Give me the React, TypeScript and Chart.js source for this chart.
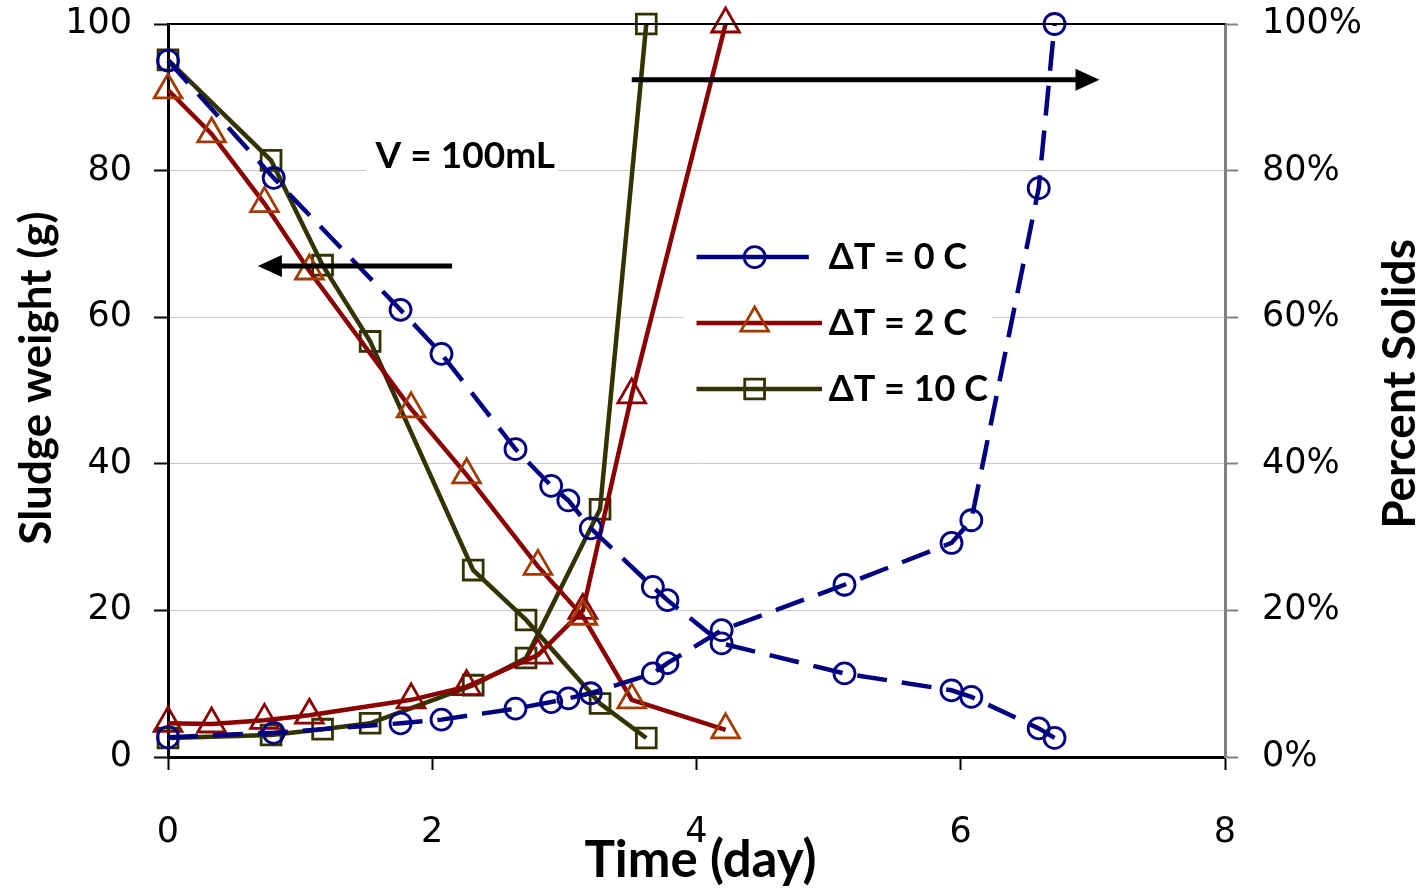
import React, { useEffect, useRef } from 'react';
import { Chart, registerables } from 'chart.js';
Chart.register(...registerables);

// ---- data ----
const xTicks = [0, 2, 4, 6, 8];
const yTicks = [0, 20, 40, 60, 80, 100];
const seriesLabels = ['ΔT = 0 C', 'ΔT = 2 C', 'ΔT = 10 C'];

const days0 = [0, 0.8, 1.76, 2.07, 2.63, 2.9, 3.03, 3.2, 3.67, 3.78, 4.19, 5.12, 5.93, 6.08, 6.59, 6.71];
const weight0 = [95, 79, 61, 55, 42, 37, 35, 31.2, 23.2, 21.4, 15.5, 11.4, 9.1, 8.2, 3.9, 2.6];
const solids0 = [2.7, 3.3, 4.6, 5.1, 6.6, 7.5, 8.0, 8.7, 11.4, 12.8, 17.3, 23.5, 29.2, 32.3, 77.6, 100];

const days2 = [0, 0.33, 0.73, 1.07, 1.84, 2.26, 2.8, 3.14, 3.51, 4.22];
const weight2 = [91, 85, 75.5, 66.3, 47.5, 38.5, 26, 19.2, 7.8, 3.7];
const solids2 = [4.6, 4.5, 5.0, 5.7, 7.8, 9.6, 13.9, 20, 49.4, 100];

const days10 = [0, 0.78, 1.17, 1.53, 2.31, 2.71, 3.27, 3.62];
const weight10 = [95.1, 81.4, 67.1, 56.7, 25.5, 18.7, 7.3, 2.6];
const solids10 = [2.6, 3.0, 3.8, 4.6, 9.8, 13.5, 33.8, 100];

const NAVY = '#000080';
const RED = '#8B0000';
const ORANGE = '#A33A00';
const OLIVE = '#333300';
const TITLE_FONT = 'Lato, "Open Sans", sans-serif';
const TICK_FONT = '"DejaVu Sans", Verdana, sans-serif';

const pts = (xs: number[], ys: number[]) => xs.map((x, i) => ({ x, y: ys[i] }));

function drawMarker(ctx: CanvasRenderingContext2D, style: string, x: number, y: number, r: number) {
  ctx.beginPath();
  if (style === 'circle') {
    ctx.arc(x, y, r, 0, Math.PI * 2);
  } else if (style === 'triangle') {
    const a = (2 * Math.PI) / 3;
    ctx.moveTo(x, y - r);
    ctx.lineTo(x + Math.sin(a) * r, y - Math.cos(a) * r);
    ctx.lineTo(x + Math.sin(2 * a) * r, y - Math.cos(2 * a) * r);
    ctx.closePath();
  } else {
    const s = Math.SQRT1_2 * r;
    ctx.rect(x - s, y - s, 2 * s, 2 * s);
  }
  ctx.stroke();
}

function arrow(ctx: CanvasRenderingContext2D, x1: number, y1: number, x2: number, y2: number) {
  const dir = Math.sign(x2 - x1);
  const head = 24;
  ctx.save();
  ctx.strokeStyle = '#000';
  ctx.fillStyle = '#000';
  ctx.lineWidth = 5;
  ctx.beginPath();
  ctx.moveTo(x1, y1);
  ctx.lineTo(x2 - dir * head + dir * 2, y2);
  ctx.stroke();
  ctx.beginPath();
  ctx.moveTo(x2, y2);
  ctx.lineTo(x2 - dir * head, y2 - 11);
  ctx.lineTo(x2 - dir * head, y2 + 11);
  ctx.closePath();
  ctx.fill();
  ctx.restore();
}

const decorPlugin = {
  id: 'decor',
  beforeDatasetsDraw(chart: any) {
    const { ctx, scales } = chart;
    const x = scales.x, y = scales.y;
    ctx.save();
    ctx.fillStyle = '#fff';
    // legend background
    ctx.fillRect(x.getPixelForValue(3.9), y.getPixelForValue(72), x.getPixelForValue(6.24) - x.getPixelForValue(3.9), y.getPixelForValue(46) - y.getPixelForValue(72));
    // annotation background
    ctx.fillRect(x.getPixelForValue(1.5), y.getPixelForValue(84.5), x.getPixelForValue(2.95) - x.getPixelForValue(1.5), y.getPixelForValue(78.5) - y.getPixelForValue(84.5));
    ctx.restore();
  },
  afterDatasetsDraw(chart: any) {
    const { ctx, scales, chartArea } = chart;
    const x = scales.x, y = scales.y;
    ctx.save();
    // top border
    ctx.strokeStyle = '#000';
    ctx.lineWidth = 2;
    ctx.beginPath();
    ctx.moveTo(chartArea.left, chartArea.top);
    ctx.lineTo(chartArea.right, chartArea.top);
    ctx.stroke();

    // arrows
    arrow(ctx, x.getPixelForValue(2.15), y.getPixelForValue(67), x.getPixelForValue(0.68), y.getPixelForValue(67));
    arrow(ctx, x.getPixelForValue(3.51), y.getPixelForValue(92.4), x.getPixelForValue(7.05), y.getPixelForValue(92.4));

    // annotation text
    ctx.fillStyle = '#000';
    ctx.font = `bold 37px ${TITLE_FONT}`;
    ctx.textAlign = 'center';
    ctx.textBaseline = 'middle';
    ctx.fillText('V = 100mL', x.getPixelForValue(2.25), y.getPixelForValue(82));

    // legend
    const legendItems = [
      { label: seriesLabels[0], color: NAVY, mk: NAVY, style: 'circle', r: 10.5, y: 68.2, end: 4.85 },
      { label: seriesLabels[1], color: RED, mk: ORANGE, style: 'triangle', r: 16, y: 59.2, end: 4.95 },
      { label: seriesLabels[2], color: OLIVE, mk: OLIVE, style: 'rect', r: 14, y: 50.2, end: 4.95 },
    ];
    legendItems.forEach((it) => {
      const py = y.getPixelForValue(it.y);
      const x0 = x.getPixelForValue(4.0);
      const x1 = x.getPixelForValue(it.end);
      ctx.strokeStyle = it.color;
      ctx.lineWidth = 4.5;
      ctx.beginPath();
      ctx.moveTo(x0, py);
      ctx.lineTo(x1, py);
      ctx.stroke();
      ctx.strokeStyle = it.mk;
      ctx.lineWidth = 2.8;
      drawMarker(ctx, it.style, x.getPixelForValue(4.44), py, it.r);
      ctx.fillStyle = '#000';
      ctx.font = `bold 36px ${TITLE_FONT}`;
      ctx.textAlign = 'left';
      ctx.textBaseline = 'middle';
      ctx.fillText(it.label, x.getPixelForValue(5.0), py);
    });
    ctx.restore();
  },
  afterDraw(chart: any) {
    const { ctx, chartArea } = chart;
    ctx.save();
    ctx.fillStyle = '#000';
    ctx.textAlign = 'center';
    ctx.textBaseline = 'middle';
    // left title
    ctx.save();
    ctx.translate(37, 378);
    ctx.rotate(-Math.PI / 2);
    ctx.font = `bold 44px ${TITLE_FONT}`;
    ctx.fillText('Sludge weight (g)', 0, 0);
    ctx.restore();
    // right title
    ctx.save();
    ctx.translate(1400, 384);
    ctx.rotate(-Math.PI / 2);
    ctx.font = `bold 46px ${TITLE_FONT}`;
    ctx.fillText('Percent Solids', 0, 0);
    ctx.restore();
    // x title
    ctx.font = `bold 51px ${TITLE_FONT}`;
    ctx.fillText('Time (day)', (chartArea.left + chartArea.right) / 2 + 4, 861);
    ctx.restore();
  },
};

export default function App() {
  const ref = useRef<HTMLCanvasElement>(null);
  useEffect(() => {
    document.body.style.margin = '0';
    const canvas = ref.current!;
    const common = { borderWidth: 4.5, tension: 0, clip: false as const, pointBackgroundColor: 'rgba(0,0,0,0)', pointBorderWidth: 2.8, pointHoverRadius: 10 };
    const fitY = (w: number) => (s: any) => { s.width = w; s.paddingTop = 0; s.paddingBottom = 0; };
    const chart = new Chart(canvas, {
      type: 'line',
      data: {
        datasets: [
          { ...common, label: seriesLabels[0], data: pts(days0, weight0), yAxisID: 'y', borderColor: NAVY, borderDash: [30, 15], pointStyle: 'circle', pointRadius: 10.5, pointBorderColor: NAVY },
          { ...common, label: seriesLabels[0] + ' %', data: pts(days0, solids0), yAxisID: 'y1', borderColor: NAVY, borderDash: [30, 15], pointStyle: 'circle', pointRadius: 10.5, pointBorderColor: NAVY },
          { ...common, label: seriesLabels[1], data: pts(days2, weight2), yAxisID: 'y', borderColor: RED, pointStyle: 'triangle', pointRadius: 16, pointBorderColor: ORANGE },
          { ...common, label: seriesLabels[1] + ' %', data: pts(days2, solids2), yAxisID: 'y1', borderColor: RED, pointStyle: 'triangle', pointRadius: 16, pointBorderColor: RED },
          { ...common, label: seriesLabels[2], data: pts(days10, weight10), yAxisID: 'y', borderColor: OLIVE, pointStyle: 'rect', pointRadius: 14, pointBorderColor: OLIVE },
          { ...common, label: seriesLabels[2] + ' %', data: pts(days10, solids10), yAxisID: 'y1', borderColor: OLIVE, pointStyle: 'rect', pointRadius: 14, pointBorderColor: OLIVE },
        ],
      },
      options: {
        responsive: false,
        animation: false,
        devicePixelRatio: 1,
        layout: { padding: { top: 24, left: 0, right: 0, bottom: 0 } },
        plugins: { legend: { display: false }, tooltip: { enabled: false } },
        scales: {
          x: {
            type: 'linear',
            min: 0,
            max: 8,
            afterBuildTicks: (s: any) => { s.ticks = xTicks.map((v) => ({ value: v })); },
            afterFit: (s: any) => { s.height = 133; s.paddingLeft = 0; s.paddingRight = 0; },
            ticks: { color: '#000', font: { family: TICK_FONT, size: 35 }, padding: 42, maxRotation: 0, callback: (v: any) => String(v) },
            grid: { drawOnChartArea: false, drawTicks: true, tickLength: 13, tickColor: '#000', tickWidth: 2 },
            border: { color: '#000', width: 3 },
          },
          y: {
            type: 'linear',
            position: 'left',
            min: 0,
            max: 100,
            afterBuildTicks: (s: any) => { s.ticks = yTicks.map((v) => ({ value: v })); },
            afterFit: fitY(168),
            ticks: { color: '#000', font: { family: TICK_FONT, size: 35 }, padding: 22, callback: (v: any) => String(v) },
            grid: { color: '#c8c8c8', lineWidth: 1, tickLength: 14, tickColor: '#000', tickWidth: 2 },
            border: { color: '#000', width: 3 },
          },
          y1: {
            type: 'linear',
            position: 'right',
            min: 0,
            max: 100,
            afterBuildTicks: (s: any) => { s.ticks = yTicks.map((v) => ({ value: v })); },
            afterFit: fitY(201),
            ticks: { color: '#000', font: { family: TICK_FONT, size: 35 }, padding: 24, callback: (v: any) => `${v}%` },
            grid: { drawOnChartArea: false, tickLength: 13, tickColor: '#808080', tickWidth: 2 },
            border: { color: '#808080', width: 3 },
          },
        },
      },
      plugins: [decorPlugin],
    } as any);
    return () => chart.destroy();
  }, []);
  return (
    <div style={{ position: 'fixed', left: 0, top: 0, width: 1426, height: 890, background: '#fff' }}>
      <canvas ref={ref} width={1426} height={890} style={{ display: 'block' }} />
    </div>
  );
}
